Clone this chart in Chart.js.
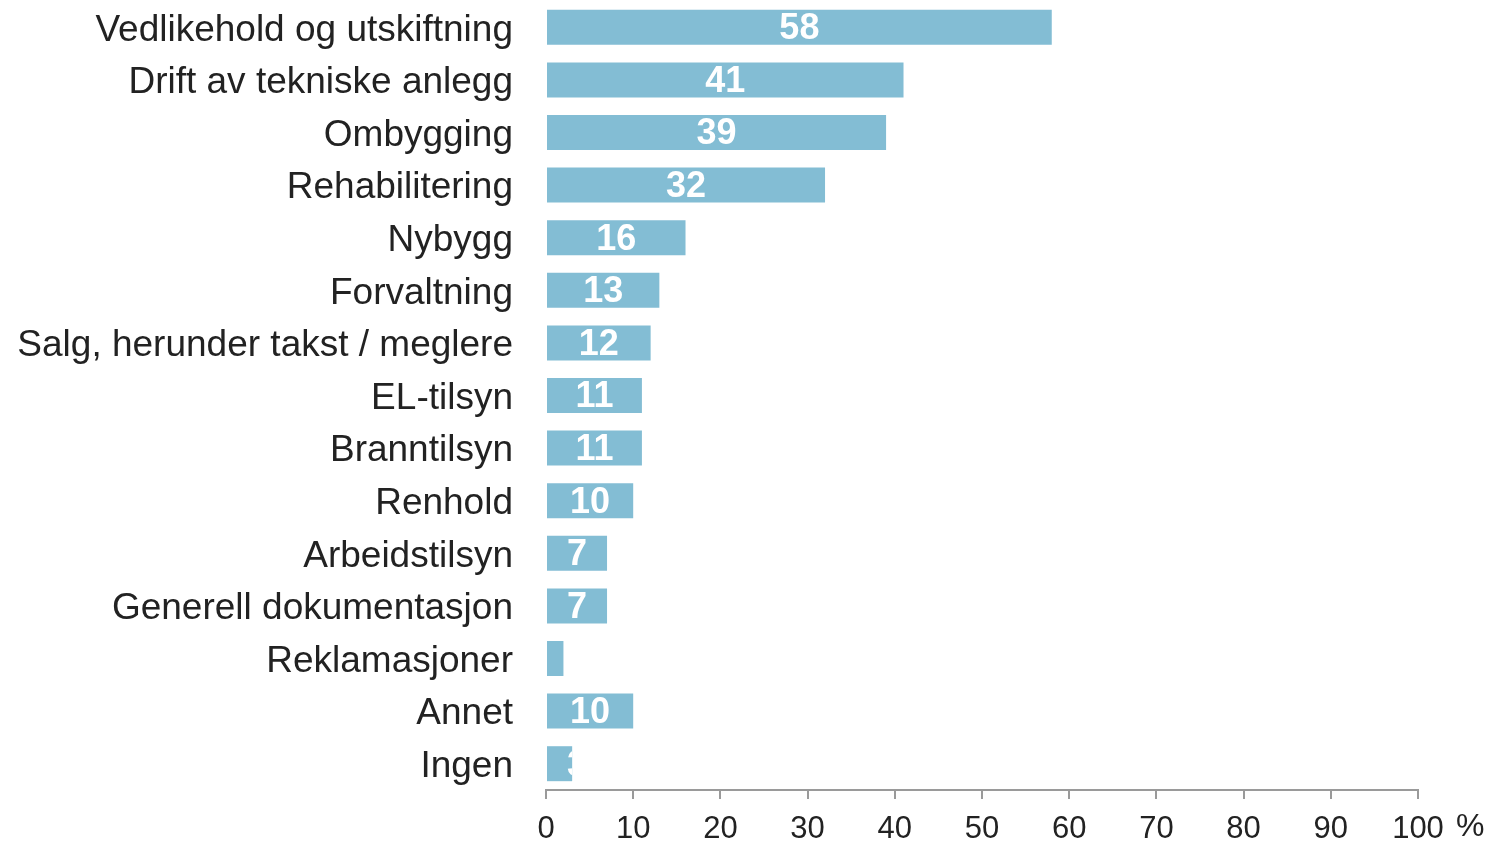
<!DOCTYPE html>
<html>
<head>
<meta charset="utf-8">
<script src="https://cdn.jsdelivr.net/npm/chart.js@4"></script>
<style>
  body { margin: 0; background: #fff; }
  canvas { display: block; }
</style>
</head>
<body>
<canvas id="chart" width="1493" height="842"></canvas>
<script>
const kategorier = ['Vedlikehold og utskiftning', 'Drift av tekniske anlegg', 'Ombygging', 'Rehabilitering',
  'Nybygg', 'Forvaltning', 'Salg, herunder takst / meglere', 'EL-tilsyn', 'Branntilsyn', 'Renhold',
  'Arbeidstilsyn', 'Generell dokumentasjon', 'Reklamasjoner', 'Annet', 'Ingen'];
const verdier = [58, 41, 39, 32, 16, 13, 12, 11, 11, 10, 7, 7, 2, 10, 3];
const xTicks = [0, 10, 20, 30, 40, 50, 60, 70, 80, 90, 100];

// verdietiketter midt i stolpen, klippet til stolpen
const verdiPlugin = {
  id: 'verdier',
  afterDatasetsDraw(chart) {
    const ctx = chart.ctx;
    const meta = chart.getDatasetMeta(0);
    ctx.save();
    ctx.font = 'bold 36px "Liberation Sans", Arial, sans-serif';
    ctx.fillStyle = '#fff';
    ctx.textAlign = 'center';
    ctx.textBaseline = 'middle';
    meta.data.forEach((bar, i) => {
      if (verdier[i] < 3) return;
      const left = bar.base, right = bar.x;
      const h = bar.height;
      ctx.save();
      ctx.beginPath();
      ctx.rect(left, bar.y - h / 2, right - left, h);
      ctx.clip();
      const x = verdier[i] <= 3 ? left + 30 : (left + right) / 2;
      ctx.fillText(String(verdier[i]), x, bar.y + 2);
      ctx.restore();
    });
    // prosenttegn til høyre for aksen
    ctx.font = '32px "Liberation Sans", Arial, sans-serif';
    ctx.fillStyle = '#222';
    ctx.textAlign = 'left';
    ctx.fillText('%', 1456, 827);
    ctx.restore();
  }
};

new Chart(document.getElementById('chart'), {
  type: 'bar',
  data: {
    labels: kategorier,
    datasets: [{
      data: verdier,
      backgroundColor: '#83bdd4',
      barPercentage: 0.665,
      categoryPercentage: 1
    }]
  },
  options: {
    indexAxis: 'y',
    responsive: false,
    animation: false,
    layout: { padding: { left: 0, right: 75, top: 1, bottom: 0 } },
    plugins: { legend: { display: false }, tooltip: { enabled: false } },
    scales: {
      y: {
        grid: { display: false, drawTicks: false },
        border: { display: false },
        ticks: {
          color: '#222',
          padding: 33,
          labelOffset: 3,
          font: { size: 37, family: '"Liberation Sans", Arial, sans-serif' }
        },
        afterFit(scale) {
          scale.width = 546;
          scale.paddingTop = 0;
          scale.paddingBottom = 0;
        }
      },
      x: {
        min: 0,
        max: 100,
        afterBuildTicks(scale) { scale.ticks = xTicks.map(v => ({ value: v })); },
        grid: { drawOnChartArea: false, drawTicks: true, tickLength: 9, color: '#9a9a9a', lineWidth: 2 },
        border: { display: true, color: '#9a9a9a', width: 2 },
        ticks: {
          color: '#222',
          padding: 12,
          maxRotation: 0,
          font: { size: 31, family: '"Liberation Sans", Arial, sans-serif' }
        },
        afterFit(scale) { scale.height = 52; }
      }
    }
  },
  plugins: [verdiPlugin]
});
</script>
</body>
</html>
